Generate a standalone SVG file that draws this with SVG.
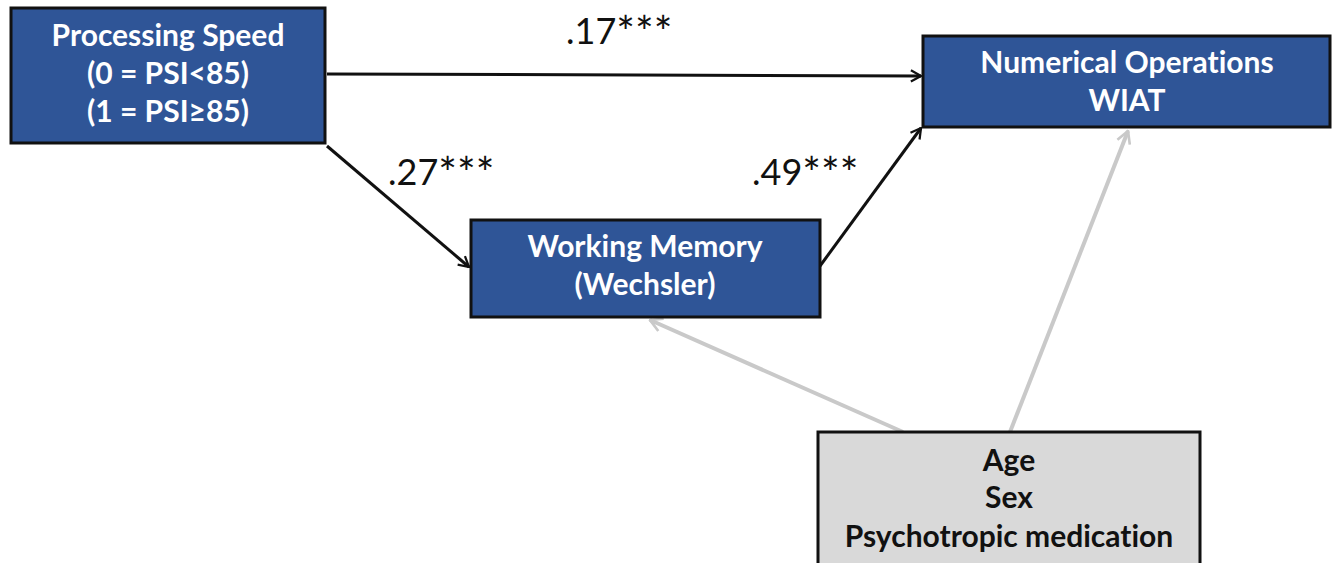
<svg xmlns="http://www.w3.org/2000/svg" width="1337" height="563" viewBox="0 0 1337 563">
<style>
.blue{fill:#2f5597;stroke:#111;stroke-width:3}
.gray{fill:#d9d9d9;stroke:#111;stroke-width:3}
text{font-variant-ligatures:none}
.wt{font-family:Lato,"Open Sans",sans-serif;font-weight:bold;font-size:30px;fill:#fff;text-anchor:middle}
.bt{font-family:Lato,"Open Sans",sans-serif;font-weight:bold;font-size:30px;fill:#111;text-anchor:middle}
.lab{font-family:Lato,"Liberation Sans",sans-serif;font-size:36px;fill:#111}
.ast{font-size:44px}
.blk{stroke:#111;stroke-width:3;fill:none}
.gr{stroke:#c9c9c9;stroke-width:4;fill:none}
</style>
<defs>
<marker id="ah" viewBox="0 0 12 12" refX="11" refY="6" markerWidth="4.5" markerHeight="4.5" markerUnits="strokeWidth" orient="auto">
<path d="M2,1 L11,6 L2,11" fill="none" stroke="#111" stroke-width="2"/>
</marker>
<marker id="ahg" viewBox="0 0 12 12" refX="11" refY="6" markerWidth="4" markerHeight="4" markerUnits="strokeWidth" orient="auto">
<path d="M2,1 L11,6 L2,11" fill="none" stroke="#c9c9c9" stroke-width="2"/>
</marker>
</defs>
<rect width="1337" height="563" fill="#fff"/>
<g id="connectors">
<line class="blk" x1="327" y1="74" x2="921" y2="76" marker-end="url(#ah)"/>
<line class="blk" x1="327" y1="146" x2="469" y2="267" marker-end="url(#ah)"/>
<line class="blk" x1="820" y1="266" x2="921" y2="128" marker-end="url(#ah)"/>
<line class="gr" x1="903" y1="432" x2="650" y2="320" marker-end="url(#ahg)"/>
<line class="gr" x1="1010" y1="432" x2="1128" y2="131" marker-end="url(#ahg)"/>
<text class="lab" x="566" y="44">.17<tspan class="ast" dy="4">***</tspan></text>
<text class="lab" x="388" y="185">.27<tspan class="ast" dy="4">***</tspan></text>
<text class="lab" x="752" y="185">.49<tspan class="ast" dy="4">***</tspan></text>
</g>
<g id="processing-speed">
<rect class="blue" x="11" y="8" width="314" height="135"/>
<text class="wt" x="168" y="46">Processing Speed</text>
<text class="wt" x="168" y="84">(0 = PSI&lt;85)</text>
<text class="wt" x="168" y="122">(1 = PSI≥85)</text>
</g>
<g id="numerical-operations">
<rect class="blue" x="923" y="36" width="407" height="91"/>
<text class="wt" x="1127" y="73">Numerical Operations</text>
<text class="wt" x="1127" y="111">WIAT</text>
</g>
<g id="working-memory">
<rect class="blue" x="471" y="220" width="349" height="97"/>
<text class="wt" x="645" y="257">Working Memory</text>
<text class="wt" x="645" y="295">(Wechsler)</text>
</g>
<g id="covariates">
<rect class="gray" x="818" y="432" width="382" height="140"/>
<text class="bt" x="1009" y="471">Age</text>
<text class="bt" x="1009" y="508">Sex</text>
<text class="bt" x="1009" y="547">Psychotropic medication</text>
</g>
</svg>
